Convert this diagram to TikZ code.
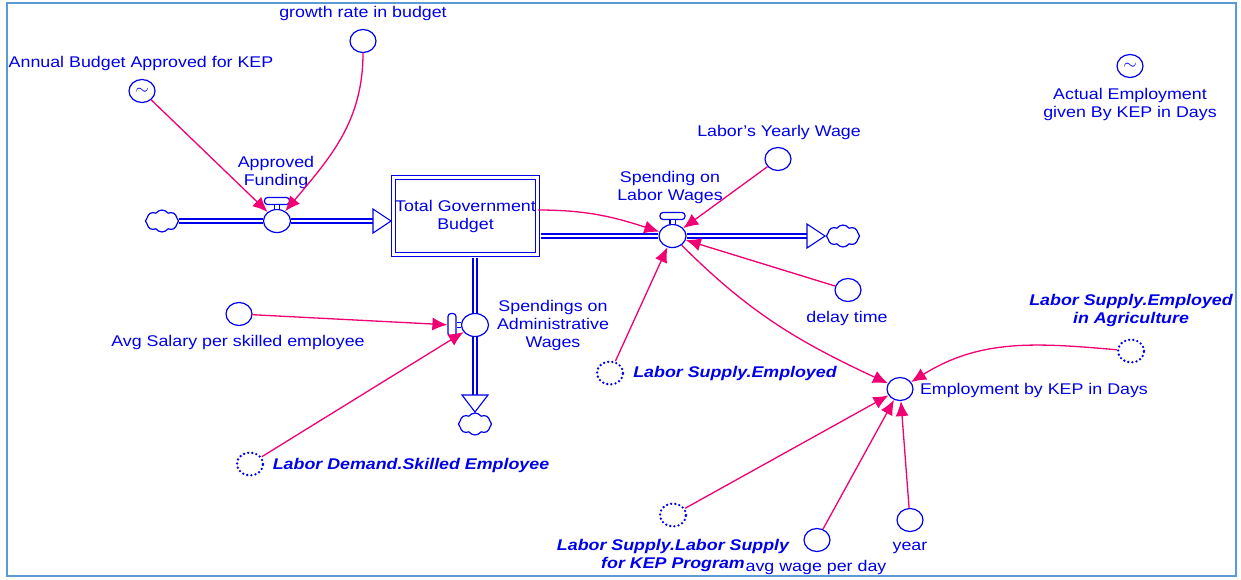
\documentclass[tikz,border=0pt]{standalone}
\usepackage{fontspec}
\setmainfont{Liberation Sans}[FakeStretch=1.15]
\usepackage{xcolor}
\usepackage{tikz}
\usetikzlibrary{calc, arrows.meta, positioning, shapes}

\definecolor{vblue}{RGB}{0,0,235}
\definecolor{vpink}{RGB}{240,0,115}
\definecolor{vframe}{RGB}{90,155,215}

\begin{document}
\begin{tikzpicture}[x=1pt, y=1pt, >=Latex, font=\fontsize{15.5}{18}\selectfont, text=vblue]
		\tikzstyle{aux} = [draw=vblue, ellipse, line width=1.2pt, minimum width=26pt, minimum height=23pt, inner sep=0pt, fill=white, font=\fontsize{17}{17}\selectfont]
		\tikzstyle{ghost} = [aux, line width=2.6pt, dash pattern=on 0pt off 4.2pt, line cap=round]
		\tikzstyle{valve} = [aux, minimum width=27pt]
		\tikzstyle{handle} = [draw=vblue, rectangle, rounded corners=3pt, line width=1.2pt, minimum width=25pt, minimum height=7pt, inner sep=0pt, fill=white]
		\tikzstyle{vhandle} = [handle, minimum width=8pt, minimum height=23pt]
		\tikzstyle{stock} = [draw=vblue, rectangle, double=white, double distance=2.6pt, line width=1pt, minimum width=144pt, minimum height=77pt, inner sep=0pt, align=center]
		\tikzstyle{sink} = [draw=vblue, cloud, cloud puffs=8, cloud puff arc=110, aspect=1.6, minimum width=33pt, minimum height=22pt, inner sep=0pt, line width=1.2pt]
		\tikzstyle{pipe} = [draw=vblue, double=white, line width=1.2pt, double distance=2.8pt]
		\tikzstyle{stem} = [draw=vblue, double=white, line width=1.1pt, double distance=4pt]
		\tikzstyle{tri} = [draw=vblue, line width=1.1pt, fill=white, line join=miter]
		\tikzstyle{link} = [draw=vpink, line width=1.3pt, -{Latex[length=15pt, width=13pt]}]
		\tikzstyle{lbl} = [inner sep=0pt, align=center]
		\tikzstyle{blbl} = [lbl, font=\fontsize{15.5}{18}\selectfont\bfseries\itshape]

		\useasboundingbox (0,0) rectangle (1241,-579);
		\draw[vframe, line width=2pt] (7,-3) rectangle (1236,-576);

		\node[stock]	at (465.5, -216)	(stock)	{Total Government\\Budget};

		\node[sink]		at (162, -221)		(c1)	{};
		\node[valve]	at (277, -221)		(v1)	{};
		\node[handle]	at (277, -201)		(h1)	{};
		\coordinate						(t1)	at (391, -221);

		\node[valve]	at (672.5, -236)	(v2)	{};
		\node[handle]	at (672.5, -216)	(h2)	{};
		\coordinate						(t2)	at (825, -236);
		\node[sink]		at (843, -236)		(c2)	{};

		\node[valve]	at (475, -325)		(v3)	{};
		\node[vhandle]	at (452, -325)		(h3)	{};
		\coordinate						(t3)	at (475, -412);
		\node[sink]		at (475, -424)		(c3)	{};

		\draw[pipe] (c1) -- (v1);
		\draw[pipe] (v1) -- ($(t1)+(-18,0)$);
		\draw[tri] (t1) -- ++(-18,12) -- ++(0,-24) -- cycle;
		\draw[pipe] ($(stock.east |- v2)+(2.5,0)$) -- (v2);
		\draw[pipe] (v2) -- ($(t2)+(-18,0)$);
		\draw[tri] (t2) -- ++(-18,12) -- ++(0,-24) -- cycle;
		\draw[pipe] ($(stock.south -| v3)+(0,-2.5)$) -- (v3);
		\draw[pipe] (v3) -- ($(t3)+(0,17)$);
		\draw[tri] (t3) -- ++(-13,17) -- ++(26,0) -- cycle;
		\draw[stem] (h1) -- (v1);
		\draw[stem] (h2) -- (v2);
		\draw[stem] (h3) -- (v3);

		\node[aux]		at (363, -41)		(gr)	{};
		\node[aux]		at (142, -91)		(ab)	{$\sim$};
		\node[aux]		at (1130, -66)		(ae)	{$\sim$};
		\node[aux]		at (778, -159)		(lw)	{};
		\node[aux]		at (848, -290)		(dt)	{};
		\node[aux]		at (239, -314)		(as)	{};
		\node[ghost]	at (610, -373)		(le)	{};
		\node[ghost]	at (250, -464)		(ld)	{};
		\node[aux]		at (900, -389)		(ek)	{};
		\node[ghost]	at (1131, -351)		(la)	{};
		\node[ghost]	at (673, -515)		(lk)	{};
		\node[aux]		at (817, -540)		(aw)	{};
		\node[aux]		at (910, -520)		(yr)	{};

		\node[lbl]	at (363, -13)		(lgr)	{growth rate in budget};
		\node[lbl]	at (141, -63)		(lab)	{Annual Budget Approved for KEP};
		\node[lbl]	at (276, -172)		(lv1)	{Approved\\Funding};
		\node[lbl]	at (670, -187)		(lv2)	{Spending on\\Labor Wages};
		\node[lbl]	at (779, -132)		(llw)	{Labor's Yearly Wage};
		\node[lbl]	at (1130, -104)		(lae)	{Actual Employment\\given By KEP in Days};
		\node[lbl]	at (553, -325)		(lv3)	{Spendings on\\Administrative\\Wages};
		\node[lbl]	at (847, -318)		(ldt)	{delay time};
		\node[lbl]	at (238, -342)		(las)	{Avg Salary per skilled employee};
		\node[blbl]	at (735, -373)		(lle)	{Labor Supply.Employed};
		\node[lbl]	at (1034, -390)		(lek)	{Employment by KEP in Days};
		\node[blbl]	at (1131, -310)		(lla)	{Labor Supply.Employed\\in Agriculture};
		\node[blbl]	at (411, -465)		(lld)	{Labor Demand.Skilled Employee};
		\node[blbl]	at (673, -555)		(llk)	{Labor Supply.Labor Supply\\for KEP Program};
		\node[lbl]	at (816, -567)		(law)	{avg wage per day};
		\node[lbl]	at (910, -548)		(lyr)	{year};

		\draw[link] (ab) -- (v1);
		\draw[link] (gr) to[out=-90, in=50] (v1);
		\draw[link] ([yshift=6pt]stock.east) to[out=0, in=162] (v2);
		\draw[link] (lw) -- (v2);
		\draw[link] (dt) -- (v2);
		\draw[link] (le) -- (v2);
		\draw[link] (v2) to[out=-45, in=155] (ek);
		\draw[link] (as) -- (h3);
		\draw[link] (ld) -- (v3);
		\draw[link] (la) to[out=175, in=32] (ek);
		\draw[link] (lk) -- (ek);
		\draw[link] (aw) -- (ek);
		\draw[link] (yr) -- (ek);
	\end{tikzpicture}
\end{document}
